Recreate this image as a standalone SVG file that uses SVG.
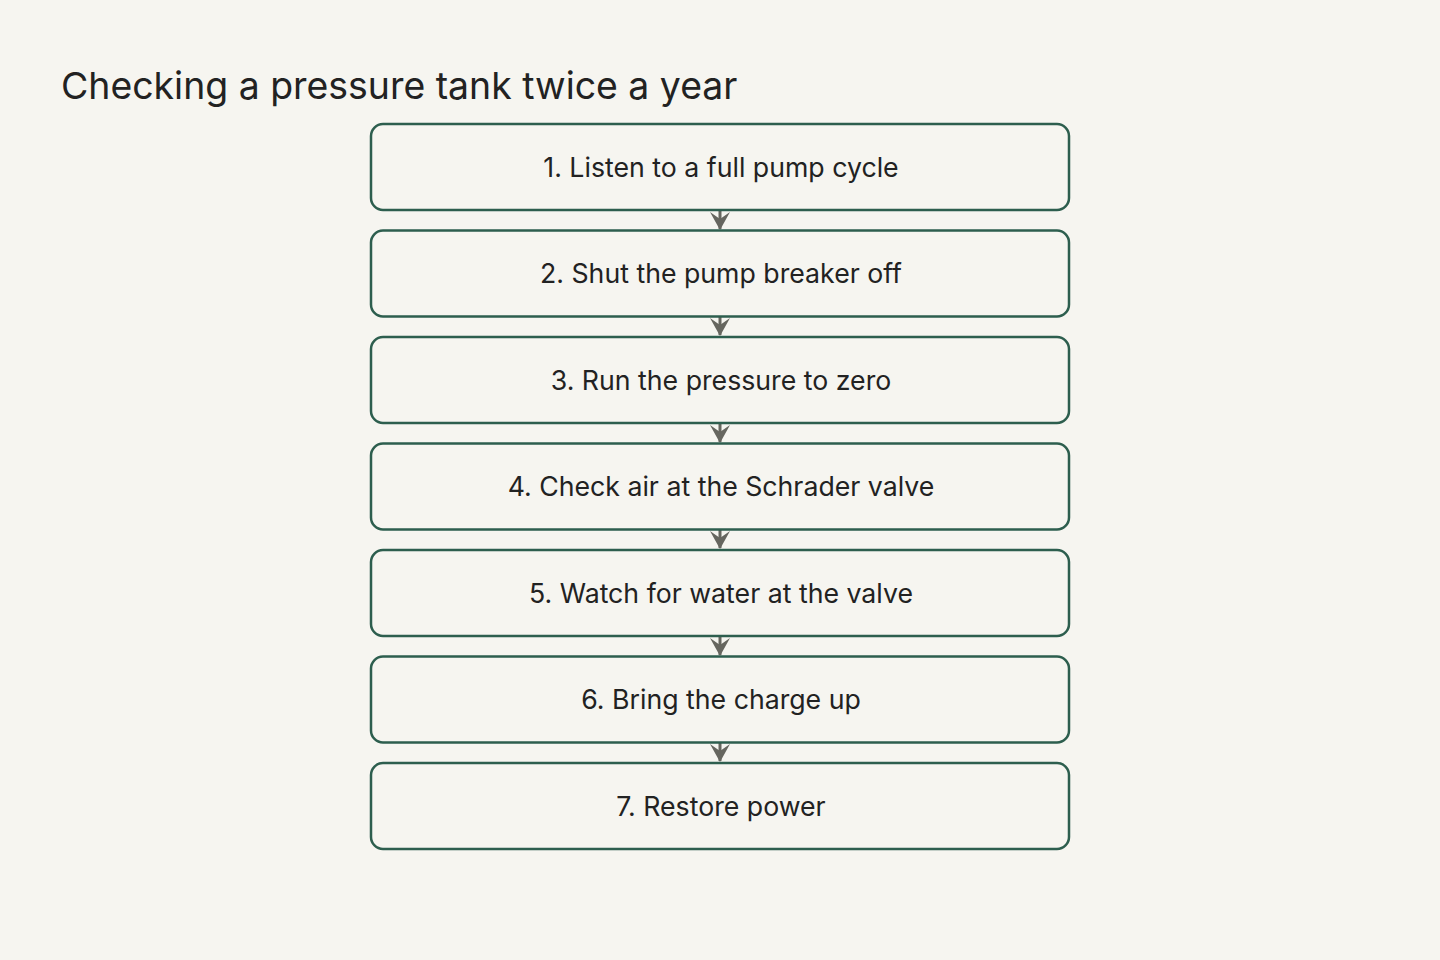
<svg xmlns="http://www.w3.org/2000/svg" width="1440" height="960" viewBox="0 0 1440 960">
<style>
.bg{fill:#f6f5f0}
.box{fill:#f6f5f0;stroke:#2d5e4e;stroke-width:2.5}
.lbl{font-family:Inter,"Noto Sans",sans-serif;font-size:26.7px;fill:#222222;text-anchor:middle;dominant-baseline:central}
.title{font-family:Inter,"Noto Sans",sans-serif;font-size:37.4px;fill:#222222}
.edge{stroke:#66665f;stroke-width:3;fill:none}
</style>
<defs>
<marker id="arr" viewBox="0 0 18 20" refX="17" refY="10" markerWidth="18" markerHeight="20" markerUnits="userSpaceOnUse" orient="auto">
<path d="M0,0 L18,10 L0,20 L7,10 Z" fill="#66665f"/>
</marker>
</defs>
<rect class="bg" x="0" y="0" width="1440" height="960"/>
<text class="title" x="61" y="99">Checking a pressure tank twice a year</text>
<g id="connectors">
<line class="edge" x1="720" y1="211" x2="720" y2="229" marker-end="url(#arr)"/>
<line class="edge" x1="720" y1="317" x2="720" y2="335" marker-end="url(#arr)"/>
<line class="edge" x1="720" y1="424" x2="720" y2="442" marker-end="url(#arr)"/>
<line class="edge" x1="720" y1="530" x2="720" y2="548" marker-end="url(#arr)"/>
<line class="edge" x1="720" y1="637" x2="720" y2="655" marker-end="url(#arr)"/>
<line class="edge" x1="720" y1="743" x2="720" y2="761" marker-end="url(#arr)"/>
</g>
<g id="step1"><rect class="box" x="371" y="124" width="698" height="86" rx="12"/><text class="lbl" x="721" y="167">1. Listen to a full pump cycle</text></g>
<g id="step2"><rect class="box" x="371" y="230.5" width="698" height="86" rx="12"/><text class="lbl" x="721" y="273">2. Shut the pump breaker off</text></g>
<g id="step3"><rect class="box" x="371" y="337" width="698" height="86" rx="12"/><text class="lbl" x="721" y="380">3. Run the pressure to zero</text></g>
<g id="step4"><rect class="box" x="371" y="443.5" width="698" height="86" rx="12"/><text class="lbl" x="721" y="486">4. Check air at the Schrader valve</text></g>
<g id="step5"><rect class="box" x="371" y="550" width="698" height="86" rx="12"/><text class="lbl" x="721" y="593">5. Watch for water at the valve</text></g>
<g id="step6"><rect class="box" x="371" y="656.5" width="698" height="86" rx="12"/><text class="lbl" x="721" y="699">6. Bring the charge up</text></g>
<g id="step7"><rect class="box" x="371" y="763" width="698" height="86" rx="12"/><text class="lbl" x="721" y="806">7. Restore power</text></g>
</svg>
